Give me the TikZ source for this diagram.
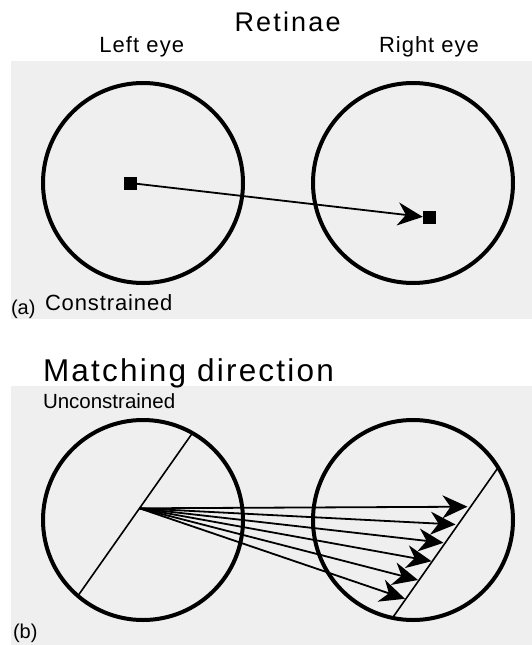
\documentclass[tikz,border=0pt]{standalone}
\usepackage{fontspec}
\setmainfont{Liberation Sans}
\usetikzlibrary{arrows.meta}
\definecolor{panelgray}{HTML}{EFEFEF}
\begin{document}
\begin{tikzpicture}[x=1pt,y=-1pt,
  panel/.style={fill=panelgray, draw=none},
  eye/.style={circle, draw=black, line width=4pt, minimum size=200pt, inner sep=0pt, outer sep=0pt},
  sq/.style={fill=black, minimum size=13pt, inner sep=0pt, outer sep=0pt},
  chord/.style={line width=1.6pt},
  link/.style={line width=1.8pt, -{Stealth[length=25pt,width=23pt,inset=8pt]}},
  lbl/.style={inner sep=0pt, outer sep=0pt},
]
\useasboundingbox (0,0) rectangle (532,645);
% panels
\path[panel] (11,61) rectangle (532,319);
\path[panel] (11,386) rectangle (532,645);
% texts
\node[lbl, anchor=base, font=\fontsize{27}{31}\selectfont\addfontfeatures{LetterSpace=8}] (title) at (287.6,31.6) {Retinae};
\node[lbl, anchor=base, font=\fontsize{22}{26}\selectfont\addfontfeatures{LetterSpace=5}] (lefteye) at (141.7,52.6) {Left eye};
\node[lbl, anchor=base, font=\fontsize{22}{26}\selectfont\addfontfeatures{LetterSpace=4.5}] (righteye) at (429,52.6) {Right eye};
\node[lbl, anchor=base west, font=\fontsize{20}{23}\selectfont] (tagA) at (11,314) {(a)};
\node[lbl, anchor=base west, font=\fontsize{22}{26}\selectfont\addfontfeatures{LetterSpace=4}] (constr) at (45,310) {Constrained};
\node[lbl, anchor=base west, font=\fontsize{31.5}{36}\selectfont\addfontfeatures{LetterSpace=7}] (matchdir) at (43,381.7) {Matching direction};
\node[lbl, anchor=base west, font=\fontsize{20.5}{24}\selectfont] (unconstr) at (43,408) {Unconstrained};
\node[lbl, anchor=base west, font=\fontsize{20}{23}\selectfont] (tagB) at (13,638.5) {(b)};
% (a) constrained
\node[eye] (eyeAL) at (143,183) {};
\node[eye] (eyeAR) at (413,183) {};
\node[sq] (ptL) at (130,183) {};
\node[sq] (ptR) at (429.3,217.6) {};
\draw[link] (ptL) -- (ptR);
% (b) unconstrained
\node[eye] (eyeBL) at (143,520) {};
\node[eye] (eyeBR) at (413,520) {};
\coordinate (lineLa) at (77.9,595.9);
\coordinate (lineLb) at (192.4,433.1);
\coordinate (lineRa) at (392.5,617.9);
\coordinate (lineRb) at (498.1,467.6);
\draw[chord] (lineLa) -- (lineLb);
\draw[chord] (lineRa) -- (lineRb);
\coordinate (src) at (139.5,508.3);
\coordinate (t1) at (467.5,506.7);
\coordinate (t2) at (455.5,524.5);
\coordinate (t3) at (443.5,542.8);
\coordinate (t4) at (431.5,561.2);
\coordinate (t5) at (418,580);
\coordinate (t6) at (405,598.8);
\foreach \t in {t1,t2,t3,t4,t5,t6} {\draw[link] (src) -- (\t);}
\end{tikzpicture}
\end{document}
